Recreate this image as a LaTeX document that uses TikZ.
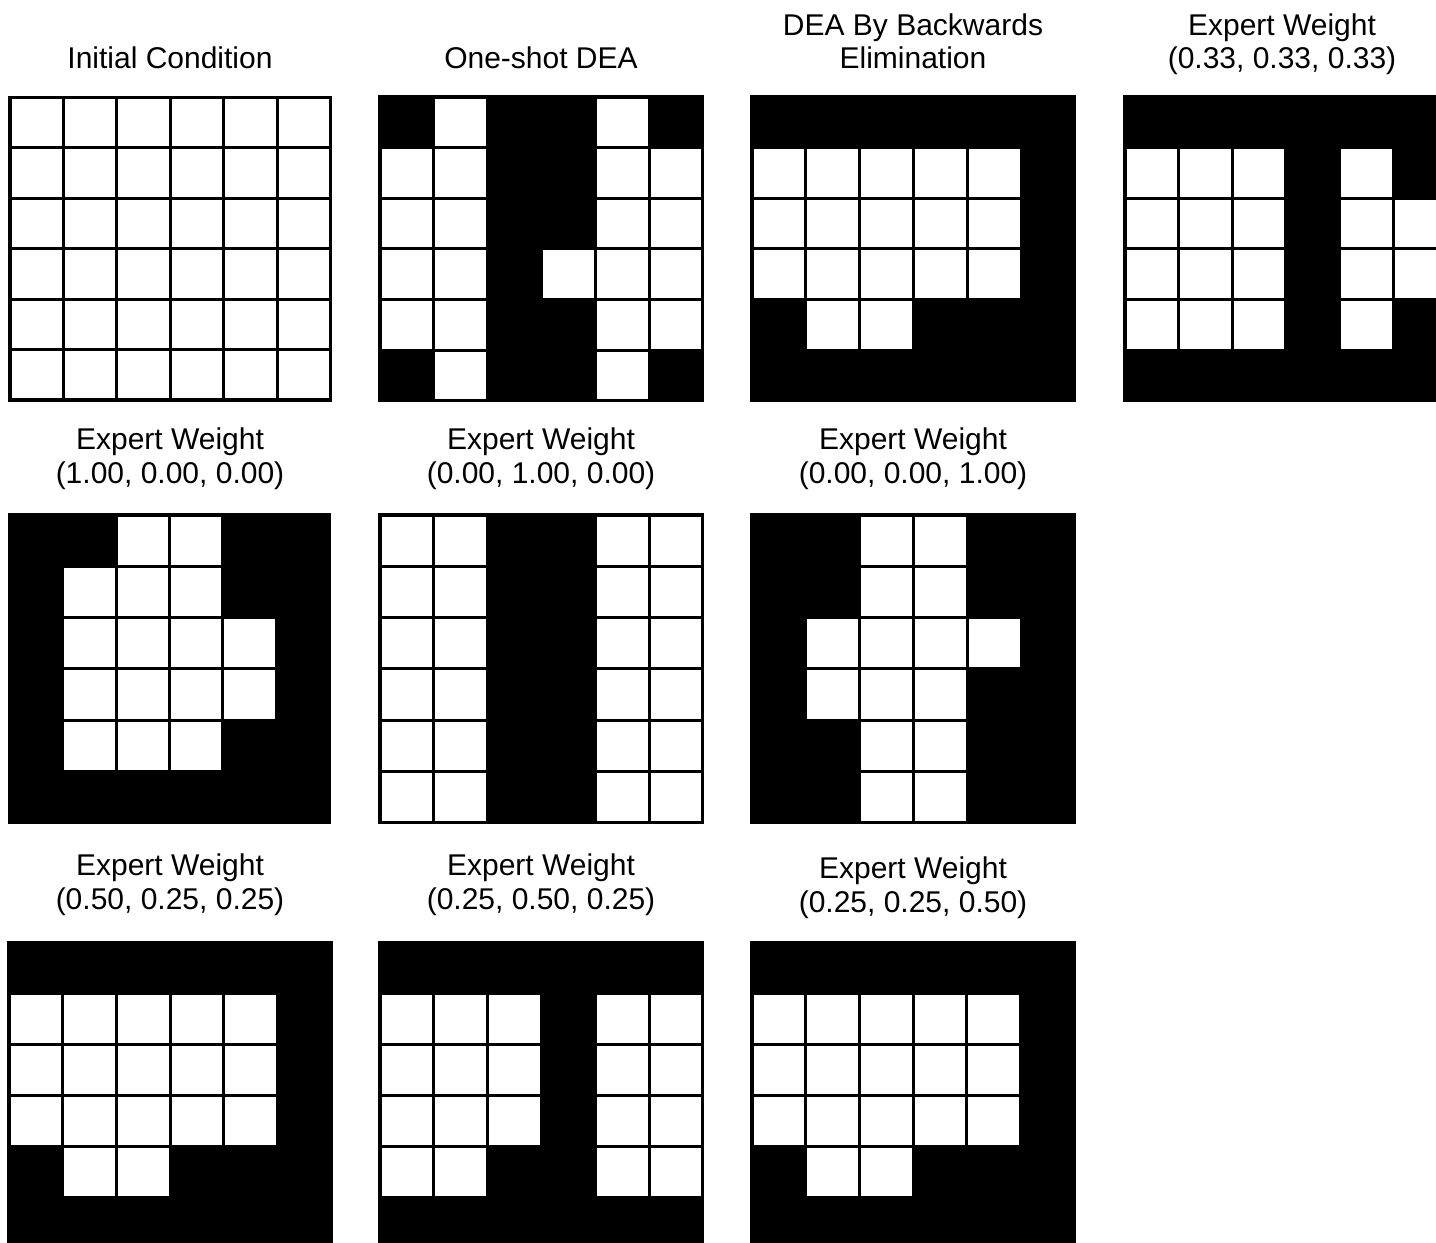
\documentclass[tikz,border=0pt]{standalone}
\usepackage{fontspec}
\setmainfont{Liberation Sans}
\newcommand{\dgrid}[5]{%
  \pgfmathsetmacro{\gx}{#1}\pgfmathsetmacro{\gy}{#2}%
  \pgfmathsetmacro{\gw}{#3}\pgfmathsetmacro{\gh}{#4}%
  \fill[cellblack] (\gx-1.6,-\gy+1.6) rectangle (\gx+6*\gw+1.6,-\gy-6*\gh-1.6);
  \foreach \v [count=\i from 0] in {#5} {%
    \pgfmathtruncatemacro{\cc}{mod(\i,6)}%
    \pgfmathtruncatemacro{\rr}{div(\i,6)}%
    \ifnum\v=1
      \fill[cellwhite] (\gx+\cc*\gw+1.5,-\gy-\rr*\gh-1.5) rectangle (\gx+\cc*\gw+\gw-1.5,-\gy-\rr*\gh-\gh+1.5);
    \fi
  }%
}
\begin{document}
\begin{tikzpicture}[x=1pt,y=1pt,
  cellblack/.style={fill=black},
  cellwhite/.style={fill=white},
  lbl/.style={anchor=base, font=\fontsize{30}{36}\selectfont, inner sep=0pt}]
\useasboundingbox (0,0) rectangle (1436,-1243);
\fill[white] (0,0) rectangle (1436,-1243);
\clip (0,0) rectangle (1436,-1243);

% ---- titles row 1
\node[lbl] (t1) at (170,-68) {Initial Condition};
\node[lbl] (t2) at (541,-68) {One-shot DEA};
\node[lbl] (t3a) at (913,-35) {DEA By Backwards};
\node[lbl] (t3b) at (913,-68) {Elimination};
\node[lbl] (t4a) at (1282,-35) {Expert Weight};
\node[lbl] (t4b) at (1282,-68) {(0.33, 0.33, 0.33)};
% ---- titles row 2
\node[lbl] (t5a) at (170,-449) {Expert Weight};
\node[lbl] (t5b) at (170,-483) {(1.00, 0.00, 0.00)};
\node[lbl] (t6a) at (541,-449) {Expert Weight};
\node[lbl] (t6b) at (541,-483) {(0.00, 1.00, 0.00)};
\node[lbl] (t7a) at (913,-449) {Expert Weight};
\node[lbl] (t7b) at (913,-483) {(0.00, 0.00, 1.00)};
% ---- titles row 3
\node[lbl] (t8a) at (170,-875) {Expert Weight};
\node[lbl] (t8b) at (170,-909) {(0.50, 0.25, 0.25)};
\node[lbl] (t9a) at (541,-875) {Expert Weight};
\node[lbl] (t9b) at (541,-909) {(0.25, 0.50, 0.25)};
\node[lbl] (t10a) at (913,-878) {Expert Weight};
\node[lbl] (t10b) at (913,-912) {(0.25, 0.25, 0.50)};

% ---- grids row 1
\dgrid{10}{97.5}{53.4}{50.4}{1,1,1,1,1,1, 1,1,1,1,1,1, 1,1,1,1,1,1, 1,1,1,1,1,1, 1,1,1,1,1,1, 1,1,1,1,1,1}
\dgrid{380}{97}{53.8}{50.6}{0,1,0,0,1,0, 1,1,0,0,1,1, 1,1,0,0,1,1, 1,1,0,1,1,1, 1,1,0,0,1,1, 0,1,0,0,1,0}
\dgrid{752}{97}{53.8}{50.6}{0,0,0,0,0,0, 1,1,1,1,1,0, 1,1,1,1,1,0, 1,1,1,1,1,0, 0,1,1,0,0,0, 0,0,0,0,0,0}
\dgrid{1125}{97}{53.6}{50.6}{0,0,0,0,0,0, 1,1,1,0,1,0, 1,1,1,0,1,1, 1,1,1,0,1,1, 1,1,1,0,1,0, 0,0,0,0,0,0}
% ---- grids row 2
\dgrid{9.5}{515}{53.3}{51.3}{0,0,1,1,0,0, 0,1,1,1,0,0, 0,1,1,1,1,0, 0,1,1,1,1,0, 0,1,1,1,0,0, 0,0,0,0,0,0}
\dgrid{380}{515}{53.8}{51.3}{1,1,0,0,1,1, 1,1,0,0,1,1, 1,1,0,0,1,1, 1,1,0,0,1,1, 1,1,0,0,1,1, 1,1,0,0,1,1}
\dgrid{752}{515}{53.8}{51.3}{0,0,1,1,0,0, 0,0,1,1,0,0, 0,1,1,1,1,0, 0,1,1,1,0,0, 0,0,1,1,0,0, 0,0,1,1,0,0}
% ---- grids row 3
\dgrid{9}{943}{53.7}{50.8}{0,0,0,0,0,0, 1,1,1,1,1,0, 1,1,1,1,1,0, 1,1,1,1,1,0, 0,1,1,0,0,0, 0,0,0,0,0,0}
\dgrid{380}{943}{53.8}{50.8}{0,0,0,0,0,0, 1,1,1,0,1,1, 1,1,1,0,1,1, 1,1,1,0,1,1, 1,1,0,0,1,1, 0,0,0,0,0,0}
\dgrid{752}{943}{53.7}{50.8}{0,0,0,0,0,0, 1,1,1,1,1,0, 1,1,1,1,1,0, 1,1,1,1,1,0, 0,1,1,0,0,0, 0,0,0,0,0,0}
\end{tikzpicture}
\end{document}
